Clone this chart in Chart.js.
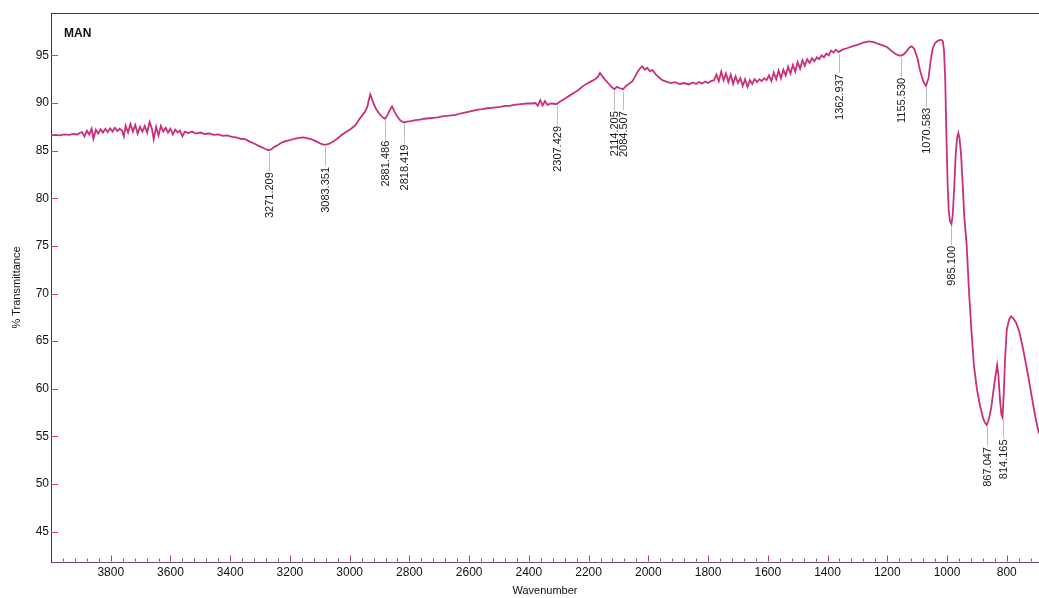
<!DOCTYPE html>
<html>
<head>
<meta charset="utf-8">
<title>FTIR - MAN</title>
<script src="https://cdn.jsdelivr.net/npm/chart.js@4.4.0/dist/chart.umd.min.js"></script>
<style>
  html, body { margin: 0; padding: 0; background: #fff; }
  canvas { display: block; }
</style>
</head>
<body>
<canvas id="irChart" width="1039" height="598"></canvas>
<script>
// wavenumber (cm-1), high to low
const wavenumbers = [
  4000, 3985, 3970, 3955, 3940, 3925, 3912, 3904, 3896, 3888, 3880, 3872, 3864, 3858, 3850, 3842,
  3834, 3826, 3818, 3810, 3802, 3794, 3786, 3778, 3770, 3762, 3756, 3750, 3742, 3734, 3726, 3718,
  3710, 3702, 3694, 3686, 3678, 3670, 3662, 3656, 3648, 3640, 3632, 3624, 3616, 3608, 3600, 3592,
  3584, 3576, 3568, 3560, 3552, 3540, 3528, 3515, 3500, 3485, 3470, 3455, 3440, 3425, 3410, 3395,
  3380, 3365, 3350, 3335, 3320, 3305, 3290, 3280, 3271.209, 3262, 3252, 3240, 3228, 3215, 3200, 3185,
  3170, 3155, 3140, 3125, 3110, 3095, 3083.351, 3070, 3055, 3040, 3025, 3010, 2995, 2980, 2968, 2958,
  2948, 2940, 2936, 2931, 2925, 2918, 2911, 2900, 2890, 2881.486, 2873, 2866, 2858, 2850, 2840, 2830,
  2818.419, 2808, 2795, 2780, 2765, 2750, 2735, 2720, 2705, 2690, 2675, 2660, 2645, 2630, 2615, 2600,
  2585, 2570, 2555, 2540, 2525, 2510, 2495, 2480, 2465, 2450, 2435, 2420, 2405, 2390, 2378, 2370,
  2362, 2354, 2346, 2338, 2326, 2307.429, 2295, 2280, 2265, 2250, 2235, 2220, 2205, 2190, 2178, 2168,
  2162, 2154, 2145, 2135, 2125, 2114.205, 2105, 2095, 2084.507, 2075, 2065, 2053, 2042, 2034, 2026, 2020,
  2012, 2004, 1995, 1986, 1975, 1965, 1953, 1940, 1925, 1910, 1895, 1880, 1865, 1850, 1840, 1830,
  1820, 1810, 1800, 1790, 1780, 1772, 1764, 1756, 1748, 1740, 1732, 1724, 1716, 1708, 1700, 1692,
  1684, 1676, 1668, 1660, 1652, 1644, 1636, 1628, 1620, 1612, 1604, 1596, 1588, 1580, 1572, 1564,
  1556, 1548, 1540, 1532, 1524, 1516, 1508, 1500, 1492, 1484, 1476, 1468, 1460, 1452, 1444, 1436,
  1428, 1420, 1412, 1404, 1396, 1388, 1380, 1372, 1362.937, 1350, 1335, 1318, 1300, 1280, 1262, 1245,
  1230, 1215, 1200, 1185, 1170, 1155.530, 1145, 1135, 1125, 1118, 1110, 1100, 1090, 1080, 1070.583, 1062,
  1055, 1048, 1040, 1030, 1020, 1014, 1010, 1006, 1002, 998, 994, 990, 985.100, 981, 976, 971,
  966, 962, 958, 953, 948, 942, 934, 926, 918, 910, 900, 890, 880, 874, 867.047, 860,
  852, 845, 838, 832, 828, 823, 818, 814.165, 810, 805, 800, 792, 785, 778, 768, 758,
  748, 738, 728, 718, 708, 698, 692
];

// % transmittance at each wavenumber above
const transmittance = [
  86.6, 86.65, 86.6, 86.7, 86.65, 86.75, 86.7, 86.85, 86.95, 86.5, 87.1, 86.7, 87.3, 86.25, 87.2, 86.8,
  87.25, 86.9, 87.3, 86.95, 87.35, 87.0, 87.4, 87.05, 87.3, 87.1, 86.5, 87.6, 86.9, 87.8, 87.0, 87.7,
  86.8, 87.5, 87.0, 87.6, 86.9, 88.0, 87.3, 86.2, 87.5, 86.6, 87.6, 87.0, 87.4, 86.9, 87.3, 86.7,
  87.2, 86.9, 87.1, 86.5, 87.0, 86.85, 87.0, 86.8, 86.9, 86.75, 86.8, 86.65, 86.7, 86.55, 86.6, 86.45,
  86.4, 86.25, 86.2, 85.95, 85.75, 85.5, 85.3, 85.15, 85.05, 85.15, 85.4, 85.6, 85.85, 86.0, 86.1, 86.25,
  86.35, 86.4, 86.3, 86.15, 85.95, 85.7, 85.6, 85.7, 85.95, 86.3, 86.7, 87.0, 87.3, 87.7, 88.3, 88.7,
  89.1, 89.7, 90.3, 90.9, 90.4, 89.8, 89.35, 88.85, 88.5, 88.35, 88.75, 89.25, 89.65, 89.1, 88.55, 88.15,
  87.95, 88.05, 88.1, 88.2, 88.25, 88.35, 88.4, 88.45, 88.5, 88.6, 88.65, 88.7, 88.75, 88.9, 89.0, 89.1,
  89.2, 89.3, 89.35, 89.45, 89.5, 89.55, 89.6, 89.7, 89.7, 89.8, 89.85, 89.9, 89.95, 89.95, 90.0, 89.7,
  90.3, 89.75, 90.2, 89.8, 89.95, 89.9, 90.15, 90.45, 90.75, 91.05, 91.35, 91.75, 92.05, 92.3, 92.5, 92.8,
  93.15, 92.8, 92.45, 92.1, 91.75, 91.45, 91.7, 91.55, 91.45, 91.8, 92.0, 92.3, 92.9, 93.4, 93.7, 93.85,
  93.5, 93.7, 93.35, 93.45, 93.0, 92.7, 92.4, 92.25, 92.1, 92.2, 92.0, 92.1, 91.95, 92.15, 92.0, 92.2,
  92.05, 92.25, 92.1, 92.3, 92.4, 93.0, 92.3, 93.3, 92.4, 93.1, 92.2, 93.0, 92.0, 92.8, 92.1, 92.6,
  91.8, 92.5, 91.7, 92.4, 92.0, 92.5, 92.2, 92.5, 92.3, 92.6, 92.4, 92.9, 92.3, 93.2, 92.5, 93.4,
  92.6, 93.5, 92.9, 93.8, 93.1, 94.0, 93.3, 94.3, 93.6, 94.5, 93.9, 94.6, 94.2, 94.7, 94.4, 94.8,
  94.6, 95.0, 94.8, 95.2, 95.0, 95.5, 95.3, 95.6, 95.35, 95.6, 95.75, 95.95, 96.1, 96.35, 96.47, 96.4,
  96.2, 96.05, 95.85, 95.45, 95.1, 94.95, 95.1, 95.45, 95.85, 95.95, 95.7, 94.8, 93.4, 92.3, 91.8, 92.6,
  94.4, 95.7, 96.3, 96.55, 96.65, 96.5, 95.5, 92.5, 86.5, 81.5, 78.6, 77.6, 77.3, 78.2, 81.0, 84.5,
  86.4, 86.85, 86.3, 84.6, 81.8, 78.0, 75.0, 70.0, 66.0, 62.5, 60.0, 58.3, 57.0, 56.5, 56.2, 56.8,
  58.0, 59.7, 61.3, 62.5, 61.5, 59.0, 57.3, 57.0, 59.5, 63.5, 66.2, 67.3, 67.6, 67.4, 66.9, 66.0,
  64.6, 63.0, 61.3, 59.5, 57.7, 56.1, 55.3
];

// peaks picked by the instrument software
const peakPositions = [3271.209, 3083.351, 2881.486, 2818.419, 2307.429, 2114.205, 2084.507,
  1362.937, 1155.530, 1070.583, 985.100, 867.047, 814.165];

const xTicks = [3800, 3600, 3400, 3200, 3000, 2800, 2600, 2400, 2200, 2000, 1800, 1600, 1400, 1200, 1000, 800];
const yTicks = [45, 50, 55, 60, 65, 70, 75, 80, 85, 90, 95];

const FONT = "Arial, 'Liberation Sans', sans-serif";

// inward tick marks, top frame line and sample name
const axisMarks = {
  id: 'axisMarks',
  afterDraw(chart) {
    const { ctx, chartArea: area, scales: { x, y } } = chart;
    const bottom = Math.round(area.bottom) - 0.5;
    ctx.save();
    ctx.lineWidth = 1;

    ctx.strokeStyle = '#33336e';
    ctx.beginPath();
    ctx.moveTo(area.left, Math.round(area.top) + 0.5);
    ctx.lineTo(area.right, Math.round(area.top) + 0.5);
    ctx.stroke();

    // minor ticks every 40 cm-1
    ctx.strokeStyle = '#6e5a74';
    ctx.beginPath();
    for (let v = 720; v <= 3960; v += 40) {
      if (v % 200 === 0) continue;
      const px = Math.round(x.getPixelForValue(v)) + 0.5;
      ctx.moveTo(px, bottom);
      ctx.lineTo(px, bottom - 3);
    }
    ctx.stroke();

    ctx.strokeStyle = '#a63a6c';
    ctx.beginPath();
    xTicks.forEach(v => {
      const px = Math.round(x.getPixelForValue(v)) + 0.5;
      ctx.moveTo(px, bottom);
      ctx.lineTo(px, bottom - 6);
    });
    ctx.stroke();

    ctx.strokeStyle = '#d4426c';
    ctx.beginPath();
    yTicks.forEach(v => {
      const py = Math.round(y.getPixelForValue(v)) + 0.5;
      ctx.moveTo(area.left, py);
      ctx.lineTo(area.left + 7, py);
    });
    ctx.stroke();

    ctx.fillStyle = '#111';
    ctx.font = 'bold 12px ' + FONT;
    ctx.textBaseline = 'middle';
    ctx.fillText('MAN', 64, 34);
    ctx.restore();
  }
};

// leader line + vertical label under each picked peak
const peakLabels = {
  id: 'peakLabels',
  afterDatasetsDraw(chart) {
    const { ctx, scales: { x, y } } = chart;
    ctx.save();
    ctx.font = '11px ' + FONT;
    ctx.fillStyle = '#1a1a1a';
    ctx.strokeStyle = '#bdbdbd';
    ctx.lineWidth = 1;
    peakPositions.forEach(wn => {
      const t = transmittance[wavenumbers.indexOf(wn)];
      const px = Math.round(x.getPixelForValue(wn)) + 0.5;
      const py = y.getPixelForValue(t);
      ctx.beginPath();
      ctx.moveTo(px, py + 2);
      ctx.lineTo(px, py + 21);
      ctx.stroke();
      ctx.save();
      ctx.translate(px, py + 22);
      ctx.rotate(-Math.PI / 2);
      ctx.textAlign = 'right';
      ctx.textBaseline = 'middle';
      ctx.fillText(wn.toFixed(3), 0, 0);
      ctx.restore();
    });
    ctx.restore();
  }
};

const points = wavenumbers.map((w, i) => ({ x: w, y: transmittance[i] }));

new Chart(document.getElementById('irChart'), {
  type: 'line',
  data: {
    datasets: [{
      data: points,
      borderColor: '#c8307a',
      borderWidth: 1.8,
      pointRadius: 0,
      tension: 0
    }]
  },
  options: {
    responsive: false,
    devicePixelRatio: 1,
    animation: false,
    layout: { padding: { top: 13, right: 0, bottom: 0, left: 0 } },
    plugins: { legend: { display: false }, tooltip: { enabled: false } },
    scales: {
      x: {
        type: 'linear',
        reverse: true,
        min: 692,
        max: 4000,
        afterBuildTicks: s => { s.ticks = xTicks.map(v => ({ value: v })); },
        afterFit: s => { s.height = 36; },
        grid: { display: false, drawTicks: false },
        border: { display: true, color: '#6a4a76', width: 1 },
        ticks: { padding: 3, color: '#111', font: { family: FONT, size: 12 }, maxRotation: 0, callback: v => String(v) },
        title: { display: true, text: 'Wavenumber', color: '#111', padding: { top: 0, bottom: 0 }, font: { family: FONT, size: 11 } }
      },
      y: {
        min: 41.82,
        max: 99.45,
        afterBuildTicks: s => { s.ticks = yTicks.map(v => ({ value: v })); },
        afterFit: s => { s.width = 51; },
        grid: { display: false, drawTicks: false },
        border: { display: true, color: '#33336e', width: 1 },
        ticks: { padding: 2, color: '#111', font: { family: FONT, size: 12 }, callback: v => String(v) },
        title: { display: true, text: '% Transmittance', color: '#111', padding: { top: 10, bottom: 0 }, font: { family: FONT, size: 11 } }
      }
    }
  },
  plugins: [peakLabels, axisMarks]
});
</script>
</body>
</html>
